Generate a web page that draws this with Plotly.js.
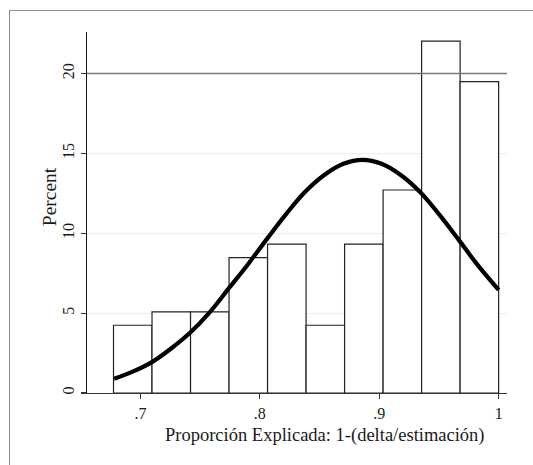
<!DOCTYPE html>
<html><head><meta charset="utf-8">
<script src="https://cdn.plot.ly/plotly-3.0.1.min.js"></script>
<style>
html,body{margin:0;padding:0;background:#fff;}
#frame{position:absolute;left:9px;top:10px;width:524px;height:455px;border-top:1.5px solid #8c8c8c;border-left:1.5px solid #8c8c8c;box-sizing:border-box;}
#chart{position:absolute;left:0;top:0;width:533px;height:465px;}
</style></head><body><div id="frame"></div><div id="chart"></div>
<script>
// Histogram bins
const binStart = 0.6775;
const binWidth = 0.03225;
const percents = [4.24, 5.08, 5.08, 8.47, 9.32, 4.24, 9.32, 12.71, 22.03, 19.49];

// Normal density overlay
const curveX = [0.678, 0.694, 0.710, 0.726, 0.742, 0.758, 0.774, 0.790, 0.806, 0.822, 0.838,
                0.854, 0.870, 0.886, 0.902, 0.918, 0.934, 0.950, 0.966, 0.982, 1.000];
const curveY = [0.89, 1.35, 1.95, 2.80, 3.80, 5.05, 6.55, 8.05, 9.65, 11.20, 12.60,
                13.65, 14.35, 14.60, 14.35, 13.65, 12.60, 11.20, 9.65, 8.05, 6.45];

const xTickVals = [0.7, 0.8, 0.9, 1.0];
const xTickText = ['.7', '.8', '.9', '1'];
const yTickVals = [0, 5, 10, 15, 20];
const yTickText = ['0', '5', '10', '15', '20'];
const refLineY = 20;

const xTitle = 'Proporción Explicada: 1-(delta/estimación)';
const yTitle = 'Percent';

const binCenters = percents.map((_, i) => binStart + binWidth * (i + 0.5));

const FONT = '"Liberation Serif", "DejaVu Serif", serif';

const traces = [
  {
    type: 'bar', x: binCenters, y: percents, width: binWidth,
    marker: {color: '#ffffff', line: {color: '#222222', width: 1.2}},
    hoverinfo: 'skip', showlegend: false
  },
  {
    type: 'scatter', mode: 'lines', x: curveX, y: curveY,
    line: {color: '#000000', width: 4.2, shape: 'spline', smoothing: 1},
    hoverinfo: 'skip', showlegend: false
  }
];

const L = 87, R = 26, T = 32, B = 72;
const W = 533, H = 465;
const pw = W - L - R, ph = H - T - B;

const layout = {
  width: W, height: H,
  margin: {l: L, r: R, t: T, b: B, pad: 0},
  paper_bgcolor: 'rgba(0,0,0,0)', plot_bgcolor: 'rgba(0,0,0,0)',
  font: {family: FONT, color: '#1a1a1a', size: 15},
  bargap: 0,
  xaxis: {
    range: [0.6553, 1.007], tickvals: xTickVals, ticktext: xTickText,
    showgrid: false, zeroline: false, showline: true, linecolor: '#333', linewidth: 1.3,
    ticks: 'outside', ticklen: 5, tickwidth: 1.2, tickcolor: '#333',
    tickfont: {family: FONT, size: 16, color: '#1a1a1a'}
  },
  yaxis: {
    range: [0, 22.6], tickvals: yTickVals, ticktext: yTickText, tickangle: -90,
    showgrid: true, gridcolor: '#ececec', gridwidth: 1, zeroline: false,
    showline: true, linecolor: '#111', linewidth: 1.2,
    ticks: 'outside', ticklen: 5, tickwidth: 1.2, tickcolor: '#333',
    tickfont: {family: FONT, size: 16, color: '#1a1a1a'}
  },
  shapes: [
    {type: 'line', xref: 'paper', x0: 0, x1: 1, yref: 'y', y0: refLineY, y1: refLineY,
     line: {color: '#7a7a7a', width: 1.6}, layer: 'above'}
  ],
  annotations: [
    {text: xTitle, xref: 'paper', yref: 'paper', x: (324.5 - L) / pw, y: -(435.5 - (H - B)) / ph,
     xanchor: 'center', yanchor: 'middle', showarrow: false,
     font: {family: FONT, size: 18.5, color: '#1a1a1a'}},
    {text: yTitle, xref: 'paper', yref: 'paper', x: (49.5 - L) / pw, y: ((H - B) - 196.7) / ph,
     xanchor: 'center', yanchor: 'middle', showarrow: false, textangle: -90,
     font: {family: FONT, size: 19.5, color: '#1a1a1a'}}
  ]
};

Plotly.newPlot('chart', traces, layout, {staticPlot: true, displayModeBar: false});
</script></body></html>
